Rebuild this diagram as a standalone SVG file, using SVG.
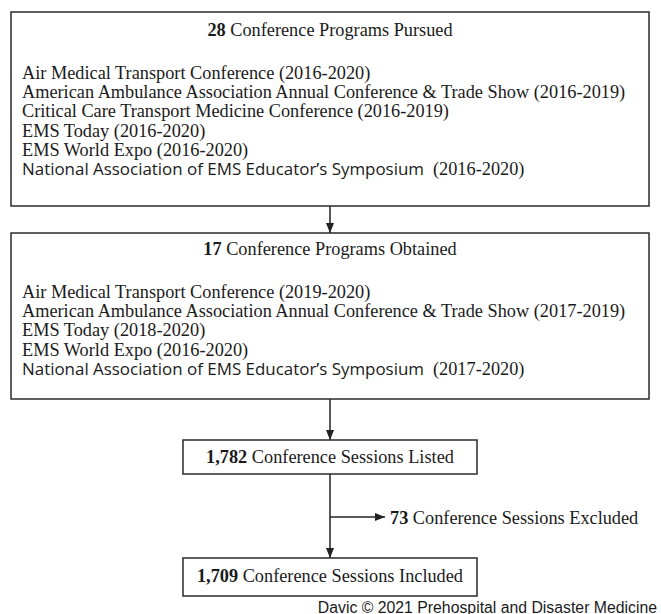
<svg xmlns="http://www.w3.org/2000/svg" width="661" height="614" viewBox="0 0 661 614">
<defs>
<marker id="arr" viewBox="0 0 10 10" refX="10" refY="5" markerWidth="10" markerHeight="10" markerUnits="userSpaceOnUse" orient="auto">
<path d="M0,1 L10,5 L0,9 Z" fill="#222"/>
</marker>
<style>
.box{fill:#fff;stroke:#2a2a2a;stroke-width:1.5}
.serif{font-family:"Liberation Serif","Times New Roman",serif;font-size:18.3px;fill:#1a1a1a}
.sans{font-family:"Open Sans","Noto Sans",sans-serif;font-size:15.5px;fill:#1a1a1a}
.b{font-weight:bold}
.mid{text-anchor:middle}
.conn{stroke:#222;stroke-width:1.5;fill:none}
.foot{font-family:"Liberation Sans",Arial,sans-serif;font-size:15.8px;fill:#1a1a1a;text-anchor:end}
</style>
</defs>
<rect width="661" height="614" fill="#fff"/>
<g id="connectors">
<line class="conn" x1="330" y1="206" x2="330" y2="233" marker-end="url(#arr)"/>
<line class="conn" x1="330" y1="399" x2="330" y2="440" marker-end="url(#arr)"/>
<line class="conn" x1="330" y1="474" x2="330" y2="558" marker-end="url(#arr)"/>
<line class="conn" x1="330" y1="517" x2="385" y2="517" marker-end="url(#arr)"/>
</g>
<g id="pursued">
<rect class="box" x="11" y="12" width="638" height="194"/>
<text class="serif mid" x="330" y="35.5"><tspan class="b">28</tspan> Conference Programs Pursued</text>
<text class="serif" x="22" y="79">Air Medical Transport Conference (2016-2020)</text>
<text class="serif" x="22" y="98.2">American Ambulance Association Annual Conference &amp; Trade Show (2016-2019)</text>
<text class="serif" x="22" y="117.4">Critical Care Transport Medicine Conference (2016-2019)</text>
<text class="serif" x="22" y="136.6">EMS Today (2016-2020)</text>
<text class="serif" x="22" y="155.8">EMS World Expo (2016-2020)</text>
<text class="sans" x="22" y="175" textLength="402" lengthAdjust="spacingAndGlyphs">National Association of EMS Educator’s Symposium</text>
<text class="serif" x="433" y="175">(2016-2020)</text>
</g>
<g id="obtained">
<rect class="box" x="11" y="233" width="638" height="166"/>
<text class="serif mid" x="330" y="254.5"><tspan class="b">17</tspan> Conference Programs Obtained</text>
<text class="serif" x="22" y="298">Air Medical Transport Conference (2019-2020)</text>
<text class="serif" x="22" y="317.2">American Ambulance Association Annual Conference &amp; Trade Show (2017-2019)</text>
<text class="serif" x="22" y="336.4">EMS Today (2018-2020)</text>
<text class="serif" x="22" y="355.6">EMS World Expo (2016-2020)</text>
<text class="sans" x="22" y="374.8" textLength="402" lengthAdjust="spacingAndGlyphs">National Association of EMS Educator’s Symposium</text>
<text class="serif" x="433" y="374.8">(2017-2020)</text>
</g>
<g id="listed">
<rect class="box" x="183" y="440" width="294" height="34"/>
<text class="serif mid" x="330" y="463"><tspan class="b">1,782</tspan> Conference Sessions Listed</text>
</g>
<g id="excluded">
<text class="serif" x="390" y="523.5"><tspan class="b">73</tspan> Conference Sessions Excluded</text>
</g>
<g id="included">
<rect class="box" x="183" y="558" width="294" height="38"/>
<text class="serif mid" x="330" y="582"><tspan class="b">1,709</tspan> Conference Sessions Included</text>
</g>
<text class="foot" x="657" y="612.5">Davic © 2021 Prehospital and Disaster Medicine</text>
</svg>
